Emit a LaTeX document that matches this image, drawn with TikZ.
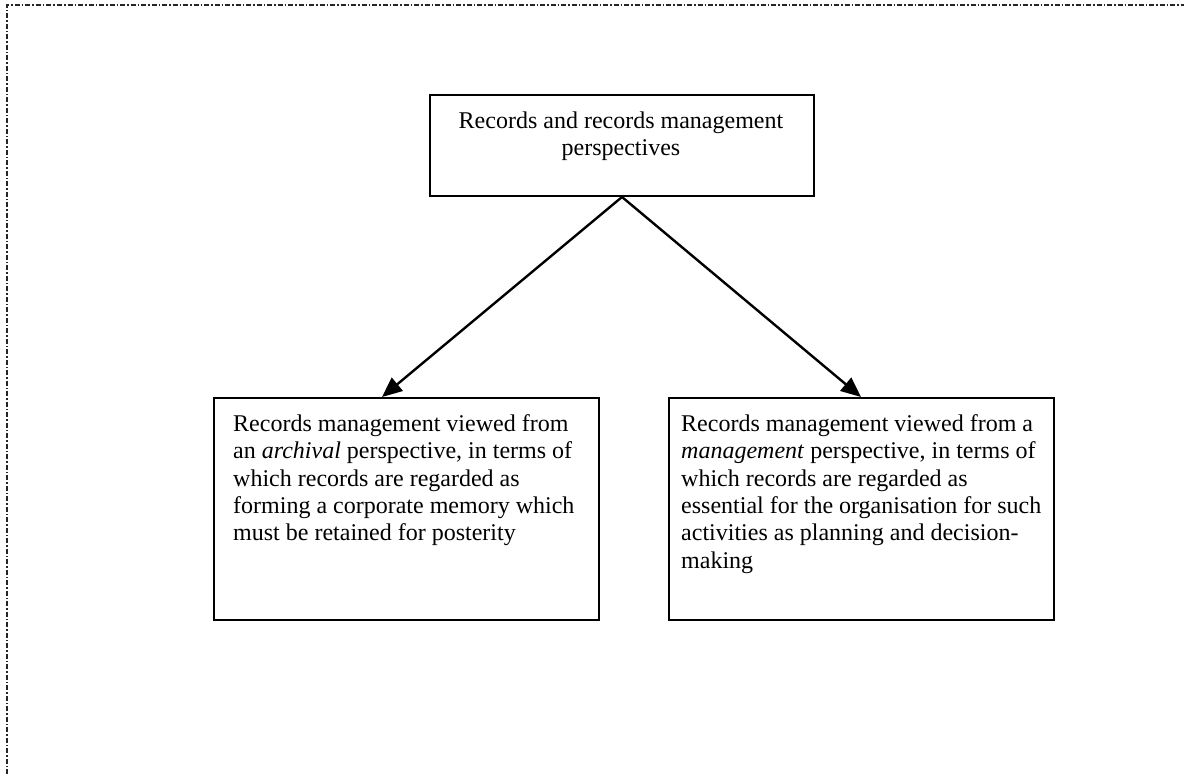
\documentclass[tikz,border=0pt]{standalone}
\usepackage{fontspec}
\setmainfont{Liberation Serif}
\usetikzlibrary{arrows.meta}
\begin{document}
\begin{tikzpicture}[x=1pt,y=-1pt,
  frame/.style={draw=black!85,line width=1.3pt,dash pattern=on 5pt off 2pt on 1.5pt off 2pt},
  boxline/.style={draw,line width=2pt,inner sep=0pt,anchor=north west},
  boxtext/.style={inner sep=0pt,font=\fontsize{24}{27.4}\selectfont},
  link/.style={line width=2.4pt,-{Triangle[length=20pt,width=17pt]}}]
\useasboundingbox (0,0) rectangle (1184,774);
% page frame, only its top and left edges show
\draw[frame] (7,774) -- (7,5) -- (1184,5);

% boxes
\node[boxline,minimum width=384pt,minimum height=101pt] (top) at (429,94) {};
\node[boxline,minimum width=385pt,minimum height=222pt] (left) at (213,397) {};
\node[boxline,minimum width=385pt,minimum height=222pt] (right) at (668,397) {};

% texts
\node[boxtext,align=center,anchor=north] (toptext) at (621,109) {\strut Records and records management\\perspectives};
\node[boxtext,align=left,anchor=north west] (lefttext) at (233,412) {\strut Records management viewed from\\an \textit{archival} perspective, in terms of\\which records are regarded as\\forming a corporate memory which\\must be retained for posterity};
\node[boxtext,align=left,anchor=north west] (righttext) at (681,412) {\strut Records management viewed from a\\\textit{management} perspective, in terms of\\which records are regarded as\\essential for the organisation for such\\activities as planning and decision-\\making};

% arrows
\coordinate (lefttip) at (382,397);
\coordinate (righttip) at (861,397);
\draw[link] (top.south) -- (lefttip);
\draw[link] (top.south) -- (righttip);
\end{tikzpicture}
\end{document}
